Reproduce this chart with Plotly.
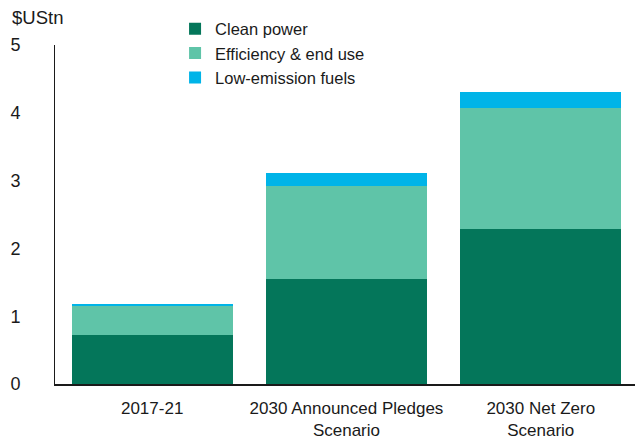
import plotly.graph_objects as go

categories = ["2017-21", "2030 Announced Pledges<br>Scenario", "2030 Net Zero<br>Scenario"]
clean_power = [0.72, 1.55, 2.29]
efficiency = [0.44, 1.37, 1.78]
low_emission = [0.01, 0.19, 0.23]
y_ticks = [0, 1, 2, 3, 4, 5]

FONT = "Liberation Sans Narrow, Liberation Sans, sans-serif"

fig = go.Figure()
fig.add_trace(go.Bar(name="Clean power", x=categories, y=clean_power, marker_color="#04765a", marker_line_width=0))
fig.add_trace(go.Bar(name="Efficiency & end use", x=categories, y=efficiency, marker_color="#5fc4a8", marker_line_width=0))
fig.add_trace(go.Bar(name="Low-emission fuels", x=categories, y=low_emission, marker_color="#00b4e8", marker_line_width=0))

fig.update_layout(
    barmode="stack",
    bargap=0.17,
    width=635, height=442,
    margin=dict(l=54.5, r=0, t=45, b=57.7, autoexpand=False),
    paper_bgcolor="white", plot_bgcolor="white",
    font=dict(family=FONT, size=17, color="#1a1a1a"),
    showlegend=True,
    legend=dict(x=0.207, y=1.099, xanchor="left", yanchor="top", bgcolor="rgba(0,0,0,0)",
                font=dict(size=16.5), traceorder="normal", itemwidth=30, tracegroupgap=0),
    yaxis=dict(range=[0, 5], tickvals=y_ticks, showgrid=False, zeroline=False,
               showline=True, linecolor="#1a1a1a", linewidth=1, ticks="",
               ticklabelstandoff=30, automargin=False, fixedrange=True,
               tickfont=dict(size=18)),
    xaxis=dict(range=[-0.5, 2.485], showgrid=False, showline=True, linecolor="#1a1a1a",
               linewidth=1.5, ticks="", ticklabelstandoff=8, automargin=False),
    annotations=[dict(text="$UStn", x=0.0, y=1.0, xref="paper", yref="paper", xanchor="left",
                      yanchor="top", xshift=-45, yshift=40, showarrow=False, font=dict(size=18.5))],
)

fig.write_html("out.html", default_width="635px", default_height="442px",
               config={"displayModeBar": False},
               post_script="document.body.style.margin='0';document.body.style.overflow='hidden';")
